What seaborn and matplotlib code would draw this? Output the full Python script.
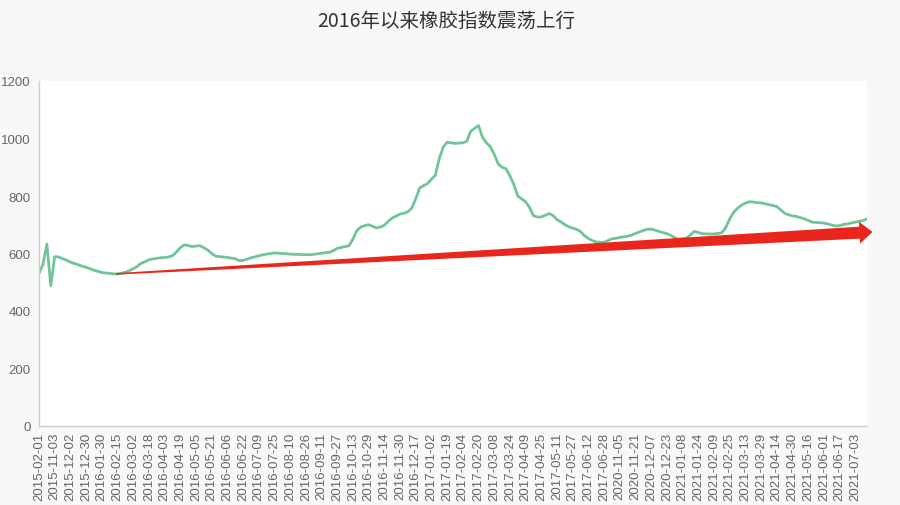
import numpy as np
import pandas as pd
import matplotlib
matplotlib.use("Agg")
import matplotlib.pyplot as plt
from matplotlib.patches import Polygon
import seaborn as sns

# tick labels shown on the category axis (one every 4 points)
tick_labels = [
    "2015-02-01", "2015-11-03", "2015-12-02", "2015-12-30", "2016-01-30",
    "2016-02-15", "2016-03-02", "2016-03-18", "2016-04-03", "2016-04-19",
    "2016-05-05", "2016-05-21", "2016-06-06", "2016-06-22", "2016-07-09",
    "2016-07-25", "2016-08-10", "2016-08-26", "2016-09-11", "2016-09-27",
    "2016-10-13", "2016-10-29", "2016-11-14", "2016-11-30", "2016-12-17",
    "2017-01-02", "2017-01-19", "2017-02-04", "2017-02-20", "2017-03-08",
    "2017-03-24", "2017-04-09", "2017-04-25", "2017-05-11", "2017-05-27",
    "2017-06-12", "2017-06-28", "2020-11-05", "2020-11-21", "2020-12-07",
    "2020-12-23", "2021-01-08", "2021-01-24", "2021-02-09", "2021-02-25",
    "2021-03-13", "2021-03-29", "2021-04-14", "2021-04-30", "2021-05-16",
    "2021-06-01", "2021-06-17", "2021-07-03",
]
points_per_label = 4

# rubber index (4 readings per labelled interval)
rubber_index = [
    531, 562, 633, 488,
    589, 588, 582, 577,
    570, 565, 561, 556,
    552, 547, 542, 538,
    534, 532, 531, 529,
    529, 531, 535, 540,
    547, 555, 566, 571,
    578, 581, 583, 585,
    586, 588, 592, 605,
    620, 630, 628, 624,
    626, 627, 620, 612,
    600, 591, 589, 588,
    586, 584, 582, 575,
    576, 580, 585, 588,
    592, 595, 598, 600,
    602, 601, 600, 599,
    598, 597, 597, 596,
    596, 596, 597, 599,
    601, 603, 604, 610,
    618, 621, 624, 627,
    650, 680, 692, 697,
    700, 695, 689, 692,
    698, 712, 723, 730,
    737, 740, 745, 758,
    790, 828, 836, 843,
    858, 872, 930, 970,
    987, 985, 983, 984,
    985, 990, 1025, 1035,
    1045, 1005, 985, 972,
    945, 912, 900, 895,
    870, 840, 800, 790,
    780, 760, 731, 727,
    727, 733, 739, 732,
    718, 710, 700, 693,
    688, 684, 676, 662,
    652, 645, 640, 639,
    639, 645, 651, 653,
    656, 658, 660, 664,
    670, 675, 680, 684,
    685, 681, 677, 673,
    669, 663, 655, 650,
    651, 653, 665, 677,
    673, 669, 668, 668,
    668, 670, 672, 690,
    720, 743, 757, 768,
    775, 780, 779, 777,
    776, 773, 770, 767,
    763, 752, 740, 735,
    731, 729, 725, 721,
    715, 709, 708, 707,
    706, 703, 699, 696,
    697, 701, 703, 706,
    709, 712, 715, 720,
]

# trend arrow: (point index, index value) at tail and tip
trend_start = (19.6, 529)
trend_end = (212.4, 675)

df = pd.DataFrame({"idx": np.arange(len(rubber_index)), "value": rubber_index})

sns.set_theme(style="white")
plt.rcParams["font.family"] = ["Liberation Sans", "Noto Sans CJK SC", "DejaVu Sans"]

fig = plt.figure(figsize=(9, 5.06), dpi=100)
fig.patch.set_facecolor("#f8f8f8")
ax = fig.add_axes([39 / 900, 79 / 506, 828 / 900, 345 / 506])
ax.set_facecolor("white")

sns.lineplot(data=df, x="idx", y="value", ax=ax, color="#6fc498", linewidth=2)

ax.set_xlim(0, len(rubber_index) - 1)
ax.set_ylim(0, 1200)
ax.set_yticks(range(0, 1201, 200))
ax.set_xticks(np.arange(len(tick_labels)) * points_per_label)
ax.set_xticklabels(tick_labels, rotation=90)
ax.set_xlabel("")
ax.set_ylabel("")
ax.tick_params(axis="both", length=0, labelsize=9.5, colors="#666666")
ax.tick_params(axis="x", pad=4)
ax.tick_params(axis="y", pad=6)
for side in ["top", "right"]:
    ax.spines[side].set_visible(False)
for side in ["left", "bottom"]:
    ax.spines[side].set_color("#cccccc")
    ax.spines[side].set_linewidth(1)
ax.grid(False)

# tapered red arrow, built in pixel space then mapped back to data
p0 = ax.transData.transform(trend_start)
p1 = ax.transData.transform(trend_end)
u = (p1 - p0) / np.linalg.norm(p1 - p0)
n = np.array([-u[1], u[0]])
head_len, head_w, body_w, tail_w = 13, 22, 12, 1.5
base = p1 - u * head_len
pts = [p0 + n * tail_w / 2, base + n * body_w / 2, base + n * head_w / 2, p1,
       base - n * head_w / 2, base - n * body_w / 2, p0 - n * tail_w / 2]
pts = ax.transData.inverted().transform(np.array(pts))
ax.add_patch(Polygon(pts, closed=True, facecolor="#e8261e", edgecolor="none",
                     zorder=5, clip_on=False))

fig.text(0.496, 0.958, "2016年以来橡胶指数震荡上行", ha="center", va="center",
         fontsize=14, color="#333333",
         family=["Noto Sans CJK SC", "DejaVu Sans"])

fig.savefig("out.png", dpi=100, facecolor=fig.get_facecolor())
